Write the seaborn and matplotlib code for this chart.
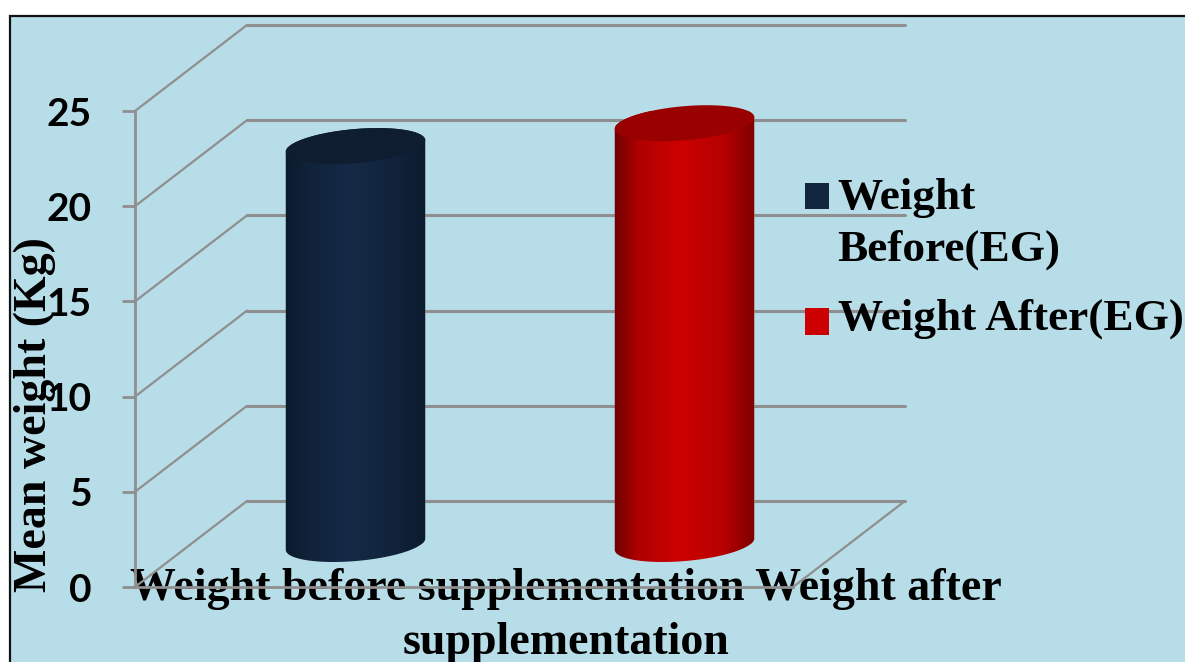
import numpy as np
import pandas as pd
import matplotlib
matplotlib.use("Agg")
import matplotlib.pyplot as plt
import seaborn as sns
from matplotlib.colors import LinearSegmentedColormap
from matplotlib.patches import Patch, Polygon, Rectangle
from matplotlib.path import Path
from matplotlib.transforms import Affine2D, IdentityTransform

# Chart values
categories = ["Weight before supplementation", "Weight after supplementation"]
series_names = ["Weight\nBefore(EG)", "Weight After(EG)"]
mean_weight = [20.9, 22.1]
y_ticks = [0, 5, 10, 15, 20, 25]

# Styling
PANEL = "#B7DDE8"
GRID = "#8F8F8F"
BAR_COLORS = ["#12263F", "#CC0000"]
CAP_COLORS = ["#0E1D30", "#990000"]
SHADES = [["#0A1828", "#11233B", "#152A47", "#11233B", "#0B1A2C"],
          ["#5E0000", "#B00000", "#CC0000", "#B80000", "#720000"]]
SERIF = "Liberation Serif"
TEXT_SIZE = 33
BAR_W = 0.4225
DEPTH = np.array([112.0, 86.0])   # back wall offset, in pixels
SEMI_A, SEMI_B, TILT = 70.0, 17.0, np.deg2rad(5.0)

sns.set_style("white")
W, H = 1185, 662
fig = plt.figure(figsize=(W / 100, H / 100), dpi=100, facecolor="white")
fig.add_artist(Rectangle((10 / W, -0.05), 1.1, (H - 16) / H + 0.05,
                         transform=fig.transFigure, facecolor=PANEL,
                         edgecolor="#111111", linewidth=1.6, zorder=-5))

ax = fig.add_axes([135 / W, (H - 587) / H, 658 / W, 476 / H])
ax.patch.set_visible(False)

frame = pd.DataFrame({"group": categories, "weight": mean_weight, "series": series_names})
sns.barplot(data=frame, x="group", y="weight", hue="series", hue_order=series_names,
            palette=BAR_COLORS, width=BAR_W, dodge=False, legend=False, saturation=1,
            ax=ax, zorder=3)
ax.set_xlim(-0.5, 1.5)
ax.set_ylim(0, 25)

# Receding walls: back gridlines and the diagonals joining them to the front plane
back = ax.transData + Affine2D().translate(*DEPTH)
middle = ax.transData + Affine2D().translate(*(DEPTH / 2))
for v in y_ticks:
    ax.plot([-0.5, 1.5], [v, v], color=GRID, lw=2.2, transform=back, clip_on=False, zorder=1)
    start = ax.transData.transform((-0.5, v))
    end = start + DEPTH
    ax.plot([start[0], end[0]], [start[1], end[1]], color=GRID, lw=1.6,
            transform=IdentityTransform(), clip_on=False, zorder=1)
start = ax.transData.transform((1.5, 0))
end = start + DEPTH
ax.plot([start[0], end[0]], [start[1], end[1]], color=GRID, lw=1.6,
        transform=IdentityTransform(), clip_on=False, zorder=1)


def ellipse_points(center, t):
    x = SEMI_A * np.cos(t)
    y = SEMI_B * np.sin(t)
    return np.column_stack([center[0] + x * np.cos(TILT) - y * np.sin(TILT),
                            center[1] + x * np.sin(TILT) + y * np.cos(TILT)])


# Turn each flat bar into a shaded cylinder standing mid-way through the depth
bars = [p for p in ax.patches if p.get_height() > 0]
bars.sort(key=lambda p: p.get_x())
for i, bar in enumerate(bars):
    x_mid = bar.get_x() + bar.get_width() / 2
    top = bar.get_height()
    top_c = middle.transform((x_mid, top))
    base_c = middle.transform((x_mid, 0))
    outline = np.vstack([ellipse_points(base_c, np.linspace(np.pi, 2 * np.pi, 80)),
                         ellipse_points(top_c, np.linspace(0, np.pi, 80))])
    body = Path(np.vstack([outline, outline[:1]]), closed=True)

    bar.set_transform(middle)
    bar.set_clip_path(body, IdentityTransform())

    cmap = LinearSegmentedColormap.from_list("shade", list(zip([0, 0.2, 0.46, 0.75, 1], SHADES[i])))
    im = ax.imshow(np.linspace(0, 1, 256).reshape(1, -1), cmap=cmap, aspect="auto",
                   extent=(bar.get_x() - 0.02, bar.get_x() + bar.get_width() + 0.02, -2, top + 2),
                   zorder=3.1, interpolation="bilinear")
    im.set_transform(middle)
    im.set_clip_path(body, IdentityTransform())
    ax.add_patch(Polygon(ellipse_points(top_c, np.linspace(0, 2 * np.pi, 160)), closed=True,
                         facecolor=CAP_COLORS[i], edgecolor="none",
                         transform=IdentityTransform(), clip_on=False, zorder=3.2))
ax.set_xlim(-0.5, 1.5)
ax.set_ylim(0, 25)

# Front plane axes
for side in ("top", "right"):
    ax.spines[side].set_visible(False)
for side in ("left", "bottom"):
    ax.spines[side].set_color(GRID)
    ax.spines[side].set_linewidth(2.0)
ax.set_yticks(y_ticks)
ax.set_xticks([])
ax.tick_params(axis="y", length=9.4, width=2.0, color=GRID, pad=22, left=True)
for lab in ax.get_yticklabels():
    lab.set(fontfamily="Lato", fontweight="bold", fontsize=28, color="black")

ax.set_ylabel("Mean weight (Kg)", fontfamily=SERIF, fontweight="bold", fontsize=TEXT_SIZE,
              color="black", va="center", ha="center")
ax.yaxis.set_label_coords((35 - 135) / 658, (587 - 415) / 476)

first, second = categories[1].split(" supplementation")[0], "supplementation"
ax.set_xlabel(f"{categories[0]} {first}\n{second}", fontfamily=SERIF, fontweight="bold",
              fontsize=TEXT_SIZE, color="black", va="top", ha="center", linespacing=1.38)
ax.xaxis.set_label_coords((566 - 135) / 658, (587 - 568) / 476)
ax.xaxis.label.set_zorder(6)

handles = [Patch(facecolor=c, edgecolor="none") for c in BAR_COLORS]
leg = ax.legend(handles, series_names, loc="upper left", frameon=False,
                bbox_to_anchor=(805 / W, (H - 178) / H), bbox_transform=fig.transFigure,
                prop={"family": SERIF, "weight": "bold", "size": 32.6},
                labelcolor="black", handlelength=0.52, handleheight=0.52, handletextpad=0.2,
                labelspacing=0.62, borderpad=0, borderaxespad=0)
leg.set_zorder(6)
for text in leg.get_texts():
    text.set_linespacing(1.38)
# Line the swatches up with the first line of each label
first_swatch, second_swatch = leg.legend_handles
first_swatch.set_y(first_swatch.get_y() + 20)
second_swatch.set_y(second_swatch.get_y() - 6)

fig.savefig("out.png", dpi=100, facecolor=fig.get_facecolor())
